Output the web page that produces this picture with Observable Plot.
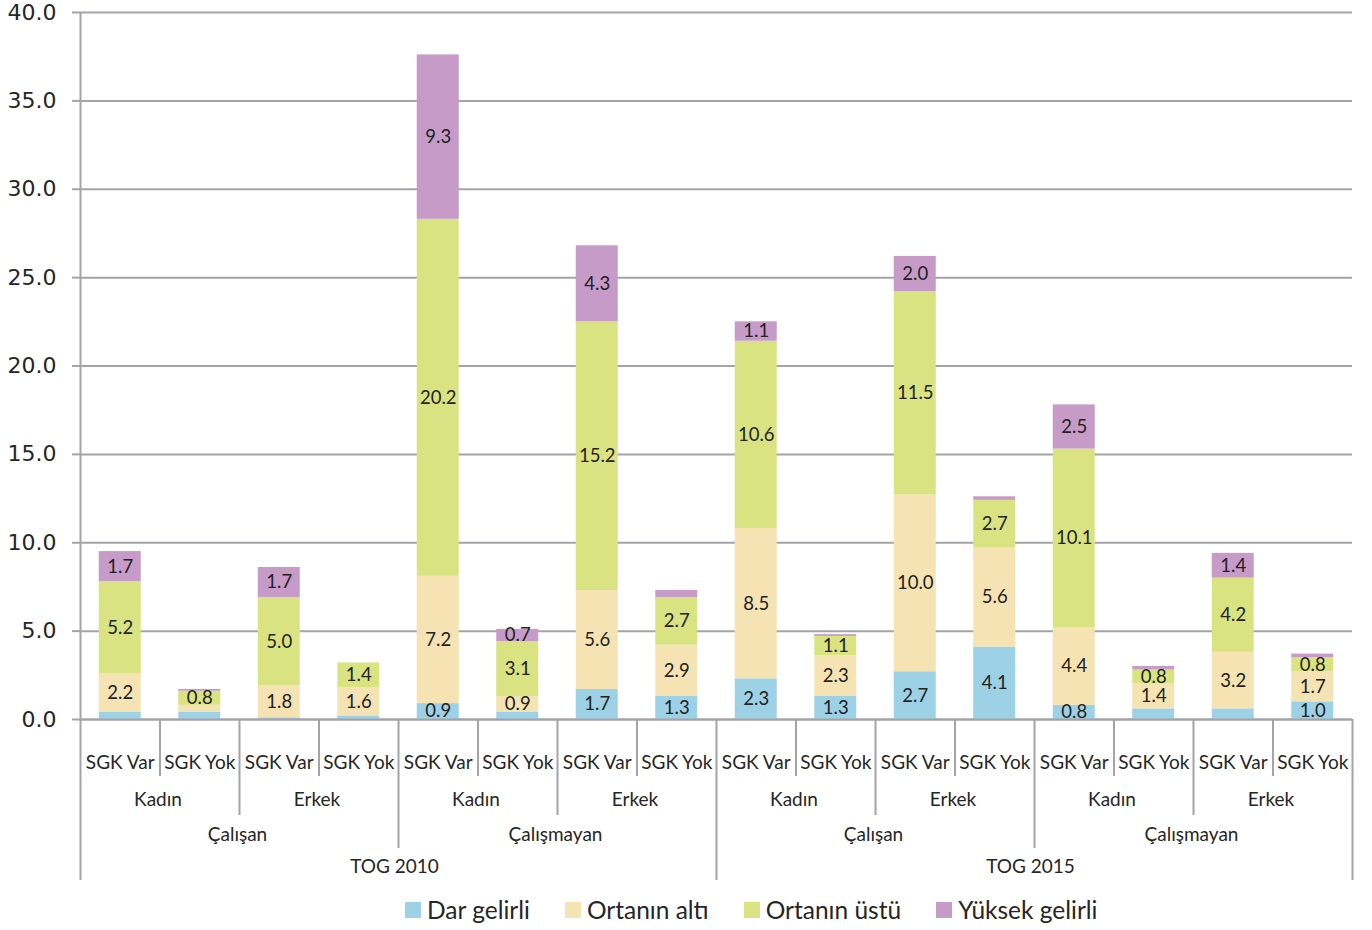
<!DOCTYPE html>
<html>
<head>
<meta charset="utf-8">
<script src="https://cdn.jsdelivr.net/npm/d3@7"></script>
<script src="https://cdn.jsdelivr.net/npm/@observablehq/plot@0.6"></script>
<style>
  body { margin: 0; background: #fff; font-family: Lato, "Open Sans", sans-serif; }
  #chart { position: absolute; left: 0; top: 0; }
  #legend { position: absolute; left: 405px; top: 895px; display: flex; align-items: center; font-family: Lato, sans-serif; font-size: 24.5px; color: #262626; }
  #legend .item { display: flex; align-items: center; margin-right: 35px; }
  #legend .sw { width: 16px; height: 16px; margin-right: 6px; }
</style>
</head>
<body>
<div id="chart"></div>
<div id="legend"></div>
<script>
// ---- data ----
const years = ["TOG 2010", "TOG 2015"];
const statuses = ["Çalışan", "Çalışmayan"];
const sexes = ["Kadın", "Erkek"];
const sgk = ["SGK Var", "SGK Yok"];
const seriesNames = ["Dar gelirli", "Ortanın altı", "Ortanın üstü", "Yüksek gelirli"];
const colors = ["#9dd1e6", "#f5e3b3", "#dae382", "#c79bc8"];

const darGelirli    = [0.4, 0.4, 0.1, 0.2,  0.9, 0.4, 1.7, 1.3,  2.3, 1.3, 2.7, 4.1,  0.8, 0.6, 0.6, 1.0];
const ortaninAlti   = [2.2, 0.4, 1.8, 1.6,  7.2, 0.9, 5.6, 2.9,  8.5, 2.3, 10.0, 5.6, 4.4, 1.4, 3.2, 1.7];
const ortaninUstu   = [5.2, 0.8, 5.0, 1.4,  20.2, 3.1, 15.2, 2.7, 10.6, 1.1, 11.5, 2.7, 10.1, 0.8, 4.2, 0.8];
const yuksekGelirli = [1.7, 0.1, 1.7, 0.0,  9.3, 0.7, 4.3, 0.4,  1.1, 0.1, 2.0, 0.2,  2.5, 0.2, 1.4, 0.2];

const yTicks = [0, 5, 10, 15, 20, 25, 30, 35, 40];

// ---- build tables ----
const bars = [];
let n = 0;
for (const yr of years) for (const st of statuses) for (const sx of sexes) for (const sg of sgk)
  bars.push({i: n++, yr, st, sx, sg});

const values = [darGelirli, ortaninAlti, ortaninUstu, yuksekGelirli];
const data = bars.flatMap(b => seriesNames.map((s, k) => ({i: b.i, i1: b.i + 1, series: s, value: values[k][b.i]})));

const perSex = sgk.length, perStatus = perSex * sexes.length, perYear = perStatus * statuses.length;
const sexGroups = d3.range(bars.length / perSex).map(j => ({x: perSex * j + perSex / 2, label: sexes[j % sexes.length]}));
const statusGroups = d3.range(bars.length / perStatus).map(j => ({x: perStatus * j + perStatus / 2, label: statuses[j % statuses.length]}));
const yearGroups = years.map((y, j) => ({x: perYear * j + perYear / 2, label: y}));
const bounds = d3.range(bars.length + 1);
const b1 = bounds.filter(k => k % perSex !== 0);
const b2 = bounds.filter(k => k % perSex === 0 && k % perStatus !== 0);
const b3 = bounds.filter(k => k % perStatus === 0 && k % perYear !== 0);
const b4 = bounds.filter(k => k % perYear === 0);

const gridColor = "#a3a3a8";
const textColor = "#262626";

const chart = Plot.plot({
  width: 1372,
  height: 885,
  marginTop: 12,
  marginBottom: 166,
  marginLeft: 80,
  marginRight: 20,
  style: {fontFamily: "Lato, sans-serif", color: textColor, background: "#fff"},
  x: {type: "linear", domain: [0, bars.length], axis: null},
  y: {domain: [0, 40], axis: null},
  color: {domain: seriesNames, range: colors},
  marks: [
    Plot.ruleY(yTicks, {stroke: gridColor, strokeWidth: 2}),
    Plot.axisY({ticks: yTicks, tickSize: 8, tickPadding: 16, tickFormat: d3.format(".1f"),
      stroke: gridColor, strokeWidth: 2, fontFamily: "DejaVu Sans, sans-serif", fontSize: 22, fill: textColor, label: null}),
    Plot.ruleX([0], {stroke: gridColor, strokeWidth: 2}),
    Plot.rectY(data, Plot.stackY({x1: "i", x2: "i1", y: "value", fill: "series", z: "series", order: seriesNames,
      insetLeft: 18.75, insetRight: 18.75})),
    Plot.text(data, Plot.stackY({x: d => d.i + 0.5, y: "value", z: "series", order: seriesNames,
      text: d => d.value >= 0.7 ? d.value.toFixed(1) : null, fill: "#222", fontSize: 18.5, fontFamily: "Lato, sans-serif"})),
    // hierarchical axis dividers
    Plot.ruleX(b1, {x: d => d, y1: 0, y2: 0, insetBottom: -57, stroke: gridColor, strokeWidth: 2}),
    Plot.ruleX(b2, {x: d => d, y1: 0, y2: 0, insetBottom: -96, stroke: gridColor, strokeWidth: 2}),
    Plot.ruleX(b3, {x: d => d, y1: 0, y2: 0, insetBottom: -129, stroke: gridColor, strokeWidth: 2}),
    Plot.ruleX(b4, {x: d => d, y1: 0, y2: 0, insetBottom: -161, stroke: gridColor, strokeWidth: 2}),
    // hierarchical axis labels
    Plot.text(bars, {x: d => d.i + 0.5, y: 0, dy: 43, text: "sg", fontSize: 19, fill: textColor}),
    Plot.text(sexGroups, {x: "x", y: 0, dy: 80, dx: -2, text: "label", fontSize: 19, fill: textColor}),
    Plot.text(statusGroups, {x: "x", y: 0, dy: 115, dx: -2, text: "label", fontSize: 19, fill: textColor}),
    Plot.text(yearGroups, {x: "x", y: 0, dy: 147, dx: -4, text: "label", fontSize: 19, fill: textColor}),
    Plot.ruleY([0], {stroke: gridColor, strokeWidth: 2})
  ]
});
document.getElementById("chart").appendChild(chart);

const legend = document.getElementById("legend");
seriesNames.forEach((s, k) => {
  const item = document.createElement("div");
  item.className = "item";
  item.innerHTML = `<div class="sw" style="background:${colors[k]}"></div><span>${s}</span>`;
  legend.appendChild(item);
});
</script>
</body>
</html>
